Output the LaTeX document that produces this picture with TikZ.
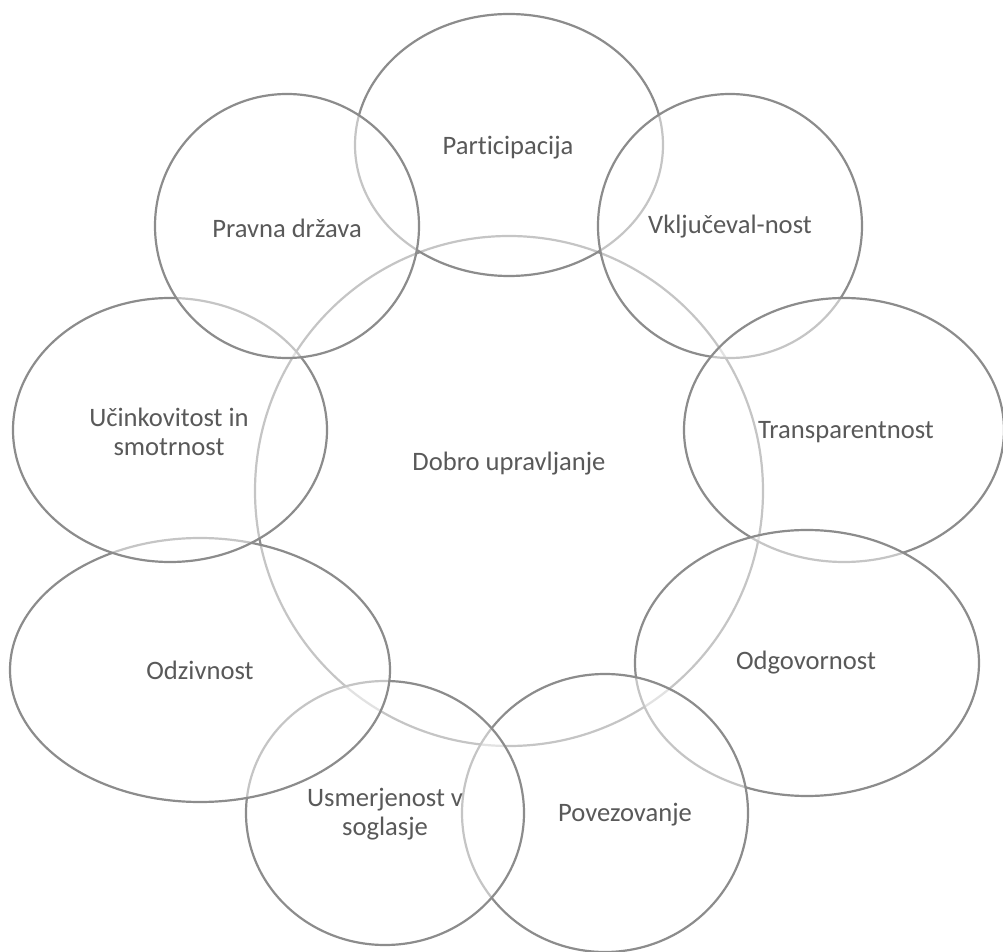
\documentclass[tikz,border=0pt]{standalone}
\usepackage{fontspec}
\setmainfont{Carlito}[Ligatures=NoCommon]
\usetikzlibrary{shapes.geometric}
\definecolor{ringgray}{HTML}{8C8C8C}
\definecolor{labelgray}{HTML}{595959}
\begin{document}
\begin{tikzpicture}[x=0.5pt,y=-0.5pt,
  ring/.style={ellipse, draw=ringgray, line width=1.1pt, fill=white,
    fill opacity=0.5, draw opacity=1, inner sep=0pt},
  lbl/.style={text=labelgray, font=\fontsize{13.3}{14.6}\selectfont,
    align=center, inner sep=0pt}]
\useasboundingbox (0,0) rectangle (1003,952);
% rings, drawn in stacking order (each fill veils the strokes beneath it)
\node[ring, minimum width=254pt, minimum height=255pt] (core)   at (509,491) {};
\node[ring, minimum width=154pt, minimum height=131pt] (part)   at (509,145) {};
\node[ring, minimum width=132pt, minimum height=132pt] (vklj)   at (730,226) {};
\node[ring, minimum width=160pt, minimum height=132pt] (transp) at (844,430) {};
\node[ring, minimum width=172pt, minimum height=133pt] (odgov)  at (807,663) {};
\node[ring, minimum width=143pt, minimum height=139pt] (povez)  at (605,813) {};
\node[ring, minimum width=139pt, minimum height=132pt] (usmer)  at (385,813) {};
\node[ring, minimum width=190pt, minimum height=132pt] (odziv)  at (200,670) {};
\node[ring, minimum width=157pt, minimum height=132pt] (ucink)  at (170,430) {};
\node[ring, minimum width=132pt, minimum height=132pt] (pravna) at (287,226) {};
% labels
\node[lbl] (tcore)   at (509,464) {Dobro upravljanje};
\node[lbl] (tpart)   at (508,148) {Participacija};
\node[lbl] (tvklj)   at (730,227) {Vključeval-nost};
\node[lbl] (ttransp) at (846,432) {Transparentnost};
\node[lbl] (todgov)  at (806,663) {Odgovornost};
\node[lbl] (tpovez)  at (625,815) {Povezovanje};
\node[lbl] (tusmer)  at (385,814) {Usmerjenost v\\soglasje};
\node[lbl] (todziv)  at (200,670) {Odzivnost};
\node[lbl] (tucink)  at (169,432) {Učinkovitost in\\smotrnost};
\node[lbl] (tpravna) at (287,228) {Pravna država};
\end{tikzpicture}
\end{document}
